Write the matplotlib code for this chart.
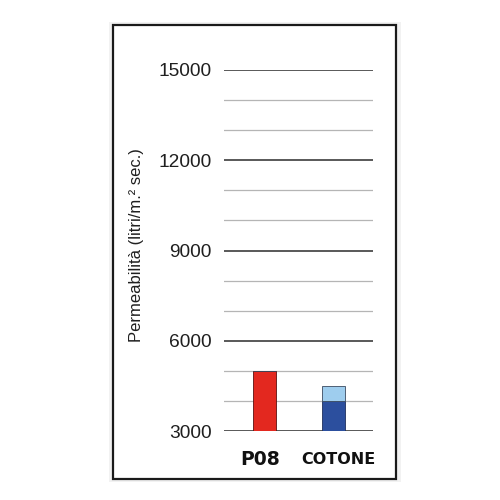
import matplotlib
matplotlib.use("Agg")
import matplotlib.pyplot as plt
from matplotlib.patches import Rectangle

categories = ["P08", "COTONE"]
base_values = [5000, 4000]
extra_values = [0, 500]
base_colors = ["#e3281f", "#2c4f9e"]
extra_color = "#9ecdee"
major_ticks = [3000, 6000, 9000, 12000, 15000]
minor_ticks = [4000, 5000, 7000, 8000, 10000, 11000, 13000, 14000]
ylabel = "Permeabilità (litri/m.² sec.)"

plt.rcParams['font.family'] = ['Liberation Sans', 'DejaVu Sans']

fig = plt.figure(figsize=(5, 5), dpi=100)
fig.patch.set_facecolor("white")

# shadow + frame
fig.patches.append(Rectangle((0.218, 0.036), 0.584, 0.92, transform=fig.transFigure,
                             facecolor="#f2f2f2", edgecolor="none", zorder=0))
fig.patches.append(Rectangle((0.2255, 0.043), 0.5665, 0.907, transform=fig.transFigure,
                             facecolor="white", edgecolor="#1a1a1a", linewidth=1.6, zorder=1))

ax = fig.add_axes([0.448, 0.138, 0.298, 0.722])
ax.set_facecolor("none")
ax.set_zorder(2)

x = list(range(len(categories)))
ax.bar(x, base_values, width=0.33, color=base_colors, edgecolor=["#5a1010", "#1e2f5c"],
       linewidth=0.6, zorder=3)
ax.bar(x, extra_values, width=0.33, bottom=base_values, color=extra_color,
       edgecolor="#3a4a60", linewidth=0.6, zorder=3)

for v in minor_ticks:
    ax.axhline(v, color="#b5b5b5", linewidth=0.9, zorder=1)
for v in major_ticks:
    ax.axhline(v, color="#333333", linewidth=1.15, zorder=1)

ax.set_xlim(-0.59, 1.58)
ax.set_ylim(3000, 15000)
ax.set_yticks(major_ticks)
ax.set_yticklabels([str(v) for v in major_ticks], fontsize=13.8, color="#1f1f1f")
ax.tick_params(axis="y", length=0, pad=9)
ax.set_xticks(x)
ax.set_xticklabels([])
ax.tick_params(axis="x", length=0)
for s in ax.spines.values():
    s.set_visible(False)

ax.text(x[0] - 0.06, -0.078, categories[0], transform=ax.get_xaxis_transform(), ha="center",
        va="center", fontsize=13.5, fontweight="bold", color="#111111", family="DejaVu Sans")
ax.text(x[1] + 0.08, -0.078, categories[1], transform=ax.get_xaxis_transform(), ha="center",
        va="center", fontsize=11.5, fontweight="bold", color="#111111", family="DejaVu Sans")

fig.text(0.274, 0.509, ylabel, rotation=90, ha="center", va="center", fontsize=12, color="#1f1f1f")

fig.savefig("out.png", dpi=100)
